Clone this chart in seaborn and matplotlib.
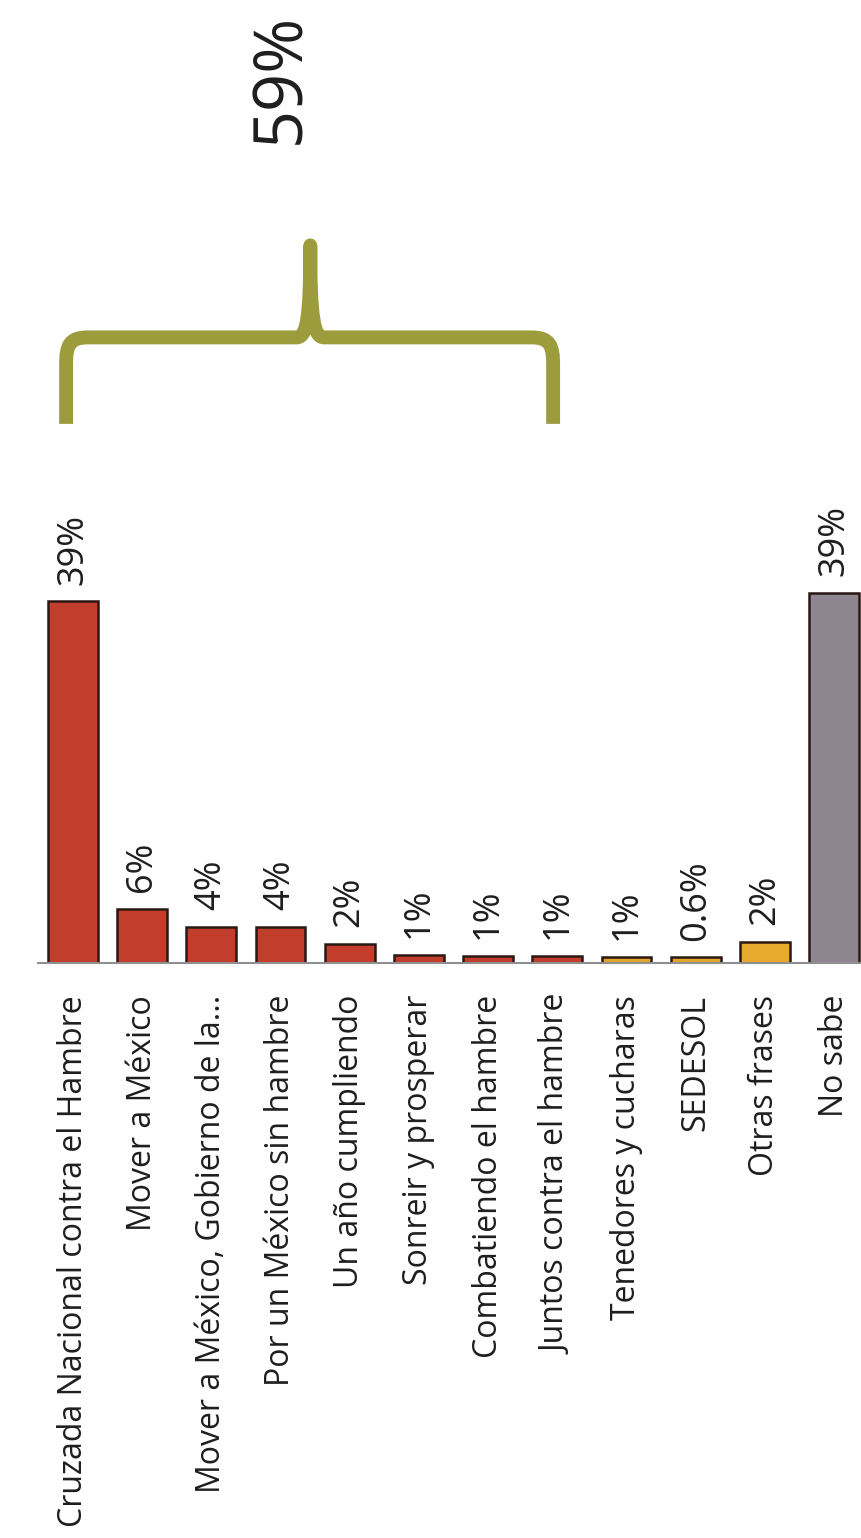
import matplotlib
matplotlib.use("Agg")
import matplotlib.pyplot as plt
import seaborn as sns
import numpy as np
from matplotlib.path import Path
from matplotlib.patches import PathPatch

# ---------------- data ----------------
categories = [
    "Cruzada Nacional contra el Hambre",
    "Mover a México",
    "Mover a México, Gobierno de la...",
    "Por un México sin hambre",
    "Un año cumpliendo",
    "Sonreir y prosperar",
    "Combatiendo el hambre",
    "Juntos contra el hambre",
    "Tenedores y cucharas",
    "SEDESOL",
    "Otras frases",
    "No sabe",
]
values = [39.3, 5.9, 3.9, 3.9, 2.1, 0.9, 0.8, 0.8, 0.7, 0.6, 2.3, 40.2]
value_labels = ["39%", "6%", "4%", "4%", "2%", "1%", "1%", "1%", "1%", "0.6%", "2%", "39%"]
bar_colors = ["#c33d2c"] * 8 + ["#e3a52a", "#e3a52a", "#e8aa2c", "#8d8590"]
total_label = "59%"

# ---------------- style ----------------
sns.set_style("white")
plt.rcParams["font.family"] = ["Open Sans", "DejaVu Sans"]

W, H = 861, 1538
fig = plt.figure(figsize=(W / 100, H / 100), dpi=100)
base_px, top_px, left_px = 963, 245, 38
ax = fig.add_axes([left_px / W, (H - base_px) / H, (W - left_px) / W, (base_px - top_px) / H])

sns.barplot(x=categories, y=values, hue=categories, palette=bar_colors, legend=False,
            width=0.72, edgecolor="#2b1812", linewidth=1.8, saturation=1, ax=ax)

px_per_unit = 9.2
ax.set_ylim(0, (base_px - top_px) / px_per_unit)
ax.set_xlim(-0.506, 11.39)

for s in ["top", "right", "left"]:
    ax.spines[s].set_visible(False)
ax.spines["bottom"].set_color("#8f8f8f")
ax.spines["bottom"].set_linewidth(1.5)
ax.set_yticks([])
ax.set_ylabel("")
ax.set_xlabel("")
ax.tick_params(axis="x", length=0, pad=23)
ax.set_xticks(range(len(categories)))
ax.set_xticklabels(categories, rotation=90, fontsize=23, color="#1e1e1e", ha="center", va="top")

# value labels
for i, (v, lab) in enumerate(zip(values, value_labels)):
    ax.annotate(lab, xy=(i, v), xytext=(0, 12), textcoords="offset points",
                rotation=90, ha="center", va="bottom", fontsize=26, color="#1e1e1e")

# brace over the red bars
xl, xr, xm = -0.10, 6.94, 3.43
yh, yleg, ytip = 68.0, 58.6, 78.0
verts = [
    (xl, yleg), (xl, 65.0),
    (xl, 67.2), (xl + 0.05, yh), (xl + 0.32, yh),
    (xm - 0.20, yh),
    (xm - 0.05, yh), (xm, 70.0), (xm, ytip),
    (xm, 70.0), (xm + 0.05, yh), (xm + 0.20, yh),
    (xr - 0.32, yh),
    (xr - 0.05, yh), (xr, 67.2), (xr, 65.0),
    (xr, yleg),
]
codes = [Path.MOVETO, Path.LINETO,
         Path.CURVE4, Path.CURVE4, Path.CURVE4,
         Path.LINETO,
         Path.CURVE4, Path.CURVE4, Path.CURVE4,
         Path.CURVE4, Path.CURVE4, Path.CURVE4,
         Path.LINETO,
         Path.CURVE4, Path.CURVE4, Path.CURVE4,
         Path.LINETO]
brace = PathPatch(Path(verts, codes), facecolor="none", edgecolor="#9c9c3c",
                  linewidth=10, capstyle="butt", joinstyle="round", clip_on=False)
ax.add_patch(brace)

fig.text(281 / W, 1 - 78 / H, total_label, rotation=90, ha="center", va="center",
         fontsize=48, color="#1e1e1e")

fig.savefig("out.png", dpi=100, facecolor="white")
